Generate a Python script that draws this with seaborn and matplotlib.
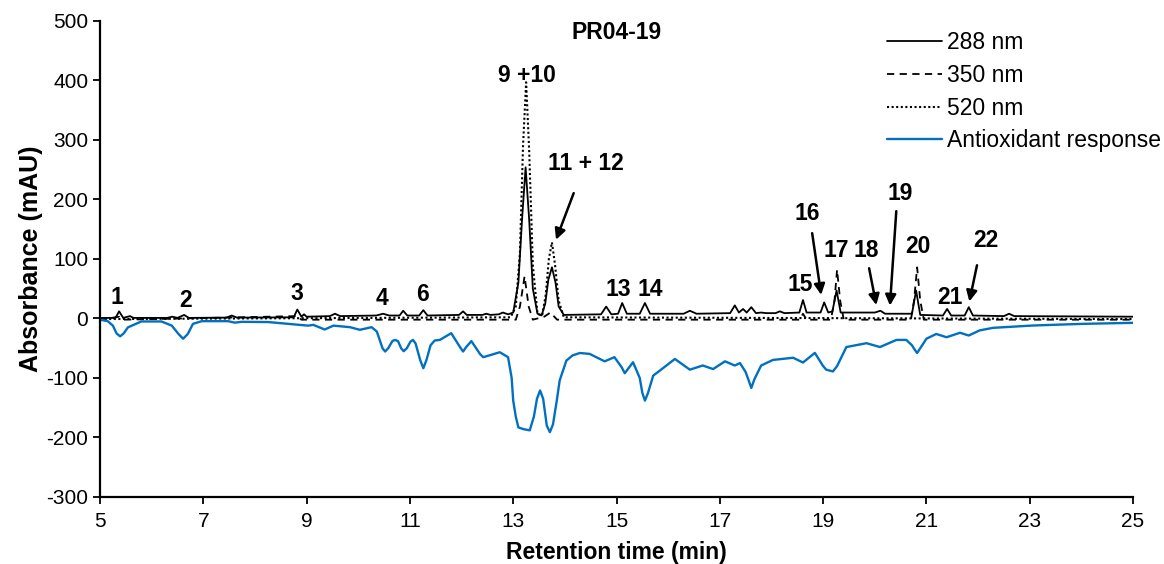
import matplotlib
matplotlib.use("Agg")
import matplotlib.pyplot as plt
import seaborn as sns

# ---- data (retention time in min, absorbance in mAU) ----
t288 = [5.0, 5.3, 5.37, 5.45, 5.58, 5.65, 6.3, 6.4, 6.5, 6.63, 6.72, 7.45, 7.55, 7.65,
        8.75, 8.82, 8.9, 8.95, 9.0, 9.45, 9.55, 9.65, 10.35, 10.48, 10.6, 10.8, 10.87,
        10.95, 11.18, 11.26, 11.34, 11.95, 12.03, 12.1, 12.4, 12.48, 12.56, 12.72, 12.8,
        12.9, 13.0, 13.1, 13.17, 13.24, 13.31, 13.38, 13.47, 13.55, 13.62, 13.68, 13.75,
        13.82, 13.88, 13.98, 14.7, 14.8, 14.9, 15.03, 15.11, 15.2, 15.45, 15.55, 15.65,
        16.3, 16.42, 16.55, 17.2, 17.29, 17.37, 17.45, 17.52, 17.61, 17.7, 17.8, 17.9,
        18.08, 18.16, 18.25, 18.54, 18.61, 18.68, 18.95, 19.02, 19.1, 19.18, 19.26, 19.34,
        20.0, 20.11, 20.2, 20.72, 20.8, 20.88, 21.32, 21.4, 21.48, 21.74, 21.82, 21.9,
        22.5, 22.6, 22.7, 25.0]
a288 = [1, 1, 12, 1, 4, 1, 1, 3, 1, 6, 1, 1.5, 5, 1.5,
        2, 15, 3, 7, 3, 4, 8, 4, 5, 8, 5, 5, 13,
        5, 5, 14, 5, 6, 12, 6, 6, 8, 6, 7, 10,
        7, 10, 60, 165, 254, 165, 50, 8, 5, 25, 65, 86,
        60, 20, 6, 7, 20, 7, 8, 26, 8, 8, 26, 8,
        8, 13, 8, 9, 22, 10, 16, 10, 19, 9, 10, 9,
        9, 12, 9, 10, 31, 10, 10, 27, 10, 12, 47, 10,
        10, 13, 8, 8, 47, 6, 5, 16, 5, 5, 19, 5,
        4, 8, 4, 3]

t350 = [5.0, 5.37, 5.45, 8.82, 8.9, 13.05, 13.13, 13.22, 13.3, 13.38, 13.6, 13.72, 13.85,
        18.55, 18.61, 18.68, 19.15, 19.22, 19.27, 19.33, 19.4, 20.7, 20.76, 20.82, 20.88,
        20.95, 25.0]
a350 = [-2, 3, -2, 4, -2, -2, 20, 71, 20, -2, 3, 10, -2,
        -2, 8, -2, -2, 30, 82, 30, -2, -2, 30, 86, 30,
        -2, -2]

t520 = [5.0, 12.95, 13.05, 13.13, 13.19, 13.25, 13.31, 13.38, 13.47, 13.56, 13.63, 13.69,
        13.75, 13.81, 13.88, 13.98, 25.0]
a520 = [-1, 2, 20, 110, 290, 397, 280, 90, 8, 5, 40, 100, 128, 90, 30, 2, -1]

t_aox = [5.0, 5.15, 5.25, 5.32, 5.39, 5.46, 5.54, 5.8, 6.19, 6.39, 6.52, 6.61, 6.7, 6.8,
         6.97, 7.48, 7.61, 7.74, 8.26, 8.77, 9.03, 9.13, 9.35, 9.52, 9.84, 10.03, 10.26,
         10.36, 10.47, 10.52, 10.58, 10.66, 10.71, 10.77, 10.83, 10.88, 10.94, 11.01,
         11.06, 11.11, 11.2, 11.26, 11.32, 11.4, 11.48, 11.58, 11.8, 11.97, 12.03, 12.09,
         12.19, 12.36, 12.42, 12.5, 12.74, 12.9, 12.97, 13.0, 13.05, 13.1, 13.2, 13.32,
         13.4, 13.46, 13.52, 13.58, 13.65, 13.71, 13.77, 13.84, 13.9, 14.03, 14.15, 14.29,
         14.48, 14.77, 14.96, 15.1, 15.16, 15.22, 15.32, 15.45, 15.5, 15.55, 15.61, 15.71,
         15.84, 16.13, 16.42, 16.67, 16.87, 17.1, 17.29, 17.39, 17.5, 17.55, 17.61, 17.67,
         17.8, 18.03, 18.42, 18.61, 18.84, 19.0, 19.06, 19.19, 19.27, 19.45, 19.84, 20.1,
         20.42, 20.61, 20.72, 20.77, 20.82, 20.88, 21.0, 21.19, 21.39, 21.65, 21.82, 22.03,
         22.29, 23.06, 24.03, 25.0]
aox = [-2, -4.5, -12, -25, -30, -25, -15, -5, -5, -12, -26, -34, -26, -9,
       -4.5, -4.5, -7, -5.6, -6, -10, -12, -10.7, -18.5, -12, -14.6, -19, -14.6,
       -22, -50, -55.5, -50, -38, -36, -38, -50, -55, -50, -39,
       -36, -42, -70, -83.6, -70, -45, -37, -36, -24.7, -48, -55.5, -48,
       -38, -60, -65, -63, -56.7, -65, -100, -138, -165, -183, -186, -188,
       -165, -135, -121, -135, -180, -191, -178, -140, -104, -70.7, -62, -58,
       -59.5, -72, -65, -82, -92, -85, -73.5, -100, -125, -138, -125, -96,
       -87.5, -68, -86, -79, -85, -72, -79, -75, -90, -102, -116.7, -102,
       -79, -69.6, -66, -74, -57.8, -80, -86, -89, -80, -48, -41.5, -48,
       -36, -36, -45, -52, -58, -50, -34, -26, -31.5, -24, -28.6, -20,
       -15.7, -11.8, -9, -7.3]

# peak labels: text and text centre (time, mAU); some carry an arrow
peak_labels = ["1", "2", "3", "4", "6", "9 +10", "11 + 12", "13", "14", "15", "16",
               "17", "18", "19", "20", "21", "22"]
label_x = [5.33, 6.65, 8.81, 10.46, 11.25, 13.26, 14.4, 15.04, 15.66, 18.55, 18.7,
           19.26, 19.83, 20.5, 20.83, 21.45, 22.15]
label_y = [35, 30, 42, 34, 40, 409, 261, 49, 49, 57, 177, 114, 114, 210, 121, 35, 131]
arrows = {"11 + 12": ((14.19, 215), (13.81, 128)),
          "16": ((18.78, 148), (18.97, 35)),
          "18": ((19.88, 89), (20.04, 18)),
          "19": ((20.42, 185), (20.29, 17)),
          "22": ((21.99, 94), (21.82, 24))}

sns.set_style("ticks")
plt.rcParams["font.family"] = ["Liberation Sans", "DejaVu Sans"]
plt.rcParams["axes.unicode_minus"] = False
plt.rcParams["text.color"] = "black"
plt.rcParams["axes.labelcolor"] = "black"

fig = plt.figure(figsize=(11.64, 5.64), dpi=100)
ax = fig.add_axes([0.0859, 0.1188, 0.8875, 0.844])

sns.lineplot(x=t288, y=a288, ax=ax, color="black", lw=1.3, sort=False,
             estimator=None, label="288 nm")
sns.lineplot(x=t350, y=a350, ax=ax, color="black", lw=1.3, sort=False,
             estimator=None, label="350 nm", linestyle=(0, (4, 3)))
sns.lineplot(x=t520, y=a520, ax=ax, color="black", lw=1.5, sort=False,
             estimator=None, label="520 nm", linestyle=(0, (1, 1.2)))
sns.lineplot(x=t_aox, y=aox, ax=ax, color="#0070C0", lw=1.7, sort=False,
             estimator=None, label="Antioxidant response")

ax.set_xlim(5, 25)
ax.set_ylim(-300, 500)
ax.set_xticks(range(5, 26, 2))
ax.set_yticks(range(-300, 501, 100))
ax.tick_params(labelsize=15, length=5, width=1.3, color="black", labelcolor="black")
ax.tick_params(axis="x", pad=6)
for s in ["left", "bottom"]:
    ax.spines[s].set_linewidth(1.6)
    ax.spines[s].set_color("black")
sns.despine(ax=ax)

ax.set_xlabel("Retention time (min)", fontsize=16.5, fontweight="bold", labelpad=7)
ax.set_ylabel("Absorbance (mAU)", fontsize=18, fontweight="bold", labelpad=2)
ax.set_title("PR04-19", fontsize=16.5, fontweight="bold", y=0.945)

for lab, x, y in zip(peak_labels, label_x, label_y):
    ax.text(x, y, lab, ha="center", va="center", fontsize=16.5, fontweight="bold")
    if lab in arrows:
        start, end = arrows[lab]
        ax.annotate("", xy=end, xytext=start,
                    arrowprops=dict(arrowstyle="-|>", color="black", lw=1.8,
                                    mutation_scale=16))

leg = ax.legend(loc="upper right", bbox_to_anchor=(1.043, 1.012), frameon=False,
                fontsize=16.5, handlelength=2.4, handletextpad=0.25, labelspacing=0.42,
                borderaxespad=0.3)

fig.savefig("out.png", dpi=100)
